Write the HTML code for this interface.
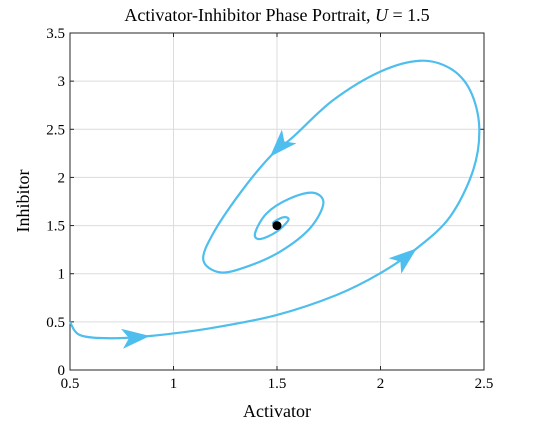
<!DOCTYPE html>
<html><head><meta charset="utf-8"><style>
body{margin:0;background:#fff}
svg{display:block;font-family:"Liberation Serif",serif}
</style></head><body>
<svg id="c" width="536" height="424" viewBox="0 0 536 424" xmlns="http://www.w3.org/2000/svg">
<rect width="536" height="424" fill="#fff"/>
<g id="grid"></g>
<g id="axes"></g>
<path id="traj" fill="none" stroke="#4DBEEE" stroke-width="2.2" stroke-linejoin="round"/>
<g id="arrows"></g>
<circle id="eq" r="4.5" fill="#000"/>
<text x="277" y="21" font-size="18" text-anchor="middle">Activator-Inhibitor Phase Portrait, <tspan font-style="italic">U</tspan> = 1.5</text>
<text x="277" y="417" font-size="18" text-anchor="middle">Activator</text>
<text x="0" y="0" font-size="18" text-anchor="middle" transform="translate(29,201) rotate(-90)">Inhibitor</text>
</svg>
<script>
const xTicks=[0.5,1,1.5,2,2.5];
const yTicks=[0,0.5,1,1.5,2,2.5,3,3.5];
const xTickLabels=["0.5","1","1.5","2","2.5"];
const yTickLabels=["0","0.5","1","1.5","2","2.5","3","3.5"];
const activator=[0.5,0.548,0.693,0.886,1.176,1.498,1.788,1.998,2.175,2.336,2.448,2.477,2.432,2.336,2.191,1.998,1.772,1.579,1.466,1.321,1.192,1.144,1.225,1.354,1.514,1.659,1.724,1.675,1.563,1.450,1.394,1.418,1.498,1.555,1.530,1.482,1.5];
const inhibitor=[0.50,0.363,0.33,0.353,0.433,0.571,0.779,1.004,1.263,1.592,2.077,2.527,2.908,3.133,3.212,3.098,2.804,2.423,2.215,1.835,1.420,1.142,1.014,1.073,1.228,1.471,1.731,1.841,1.782,1.627,1.420,1.36,1.436,1.558,1.586,1.530,1.5];
const arrowAt=[3,8,18];
const eqX=[1.5],eqY=[1.5];
const X0=70,X1=484,Y0=370,Y1=33;
const sx=v=>X0+(v-0.5)/2*(X1-X0);
const sy=v=>Y0-v/3.5*(Y0-Y1);
const NS="http://www.w3.org/2000/svg";
const g=document.getElementById('grid'),ax=document.getElementById('axes');
function mk(p,t,a){const e=document.createElementNS(NS,t);for(const k in a)e.setAttribute(k,a[k]);p.appendChild(e);return e;}
xTicks.forEach((v,i)=>{const x=sx(v);
 const l=mk(g,'line',{x1:x,x2:x,y1:Y1,y2:Y0,stroke:'#dcdcdc','stroke-width':1});
 
 
 const t=mk(ax,'text',{x:x,y:Y0+18,'font-size':15,'text-anchor':'middle'});t.textContent=xTickLabels[i];
 
 
 mk(ax,'line',{x1:x,x2:x,y1:Y0,y2:Y0-4,stroke:'#262626'});mk(ax,'line',{x1:x,x2:x,y1:Y1,y2:Y1+4,stroke:'#262626'});
});
yTicks.forEach((v,i)=>{const y=sy(v);
 const l=mk(g,'line',{x1:X0,x2:X1,y1:y,y2:y,stroke:'#dcdcdc','stroke-width':1});
 
 
 const t=mk(ax,'text',{x:X0-5,y:y+5,'font-size':15,'text-anchor':'end'});t.textContent=yTickLabels[i];
 
 
 mk(ax,'line',{x1:X0,x2:X0+4,y1:y,y2:y,stroke:'#262626'});mk(ax,'line',{x1:X1,x2:X1-4,y1:y,y2:y,stroke:'#262626'});
});
const box=mk(ax,'rect',{x:X0,y:Y1,width:X1-X0,height:Y0-Y1,fill:'none',stroke:'#262626','stroke-width':1});


const P=activator.map((v,i)=>[sx(v),sy(inhibitor[i])]);
let d='M'+P[0][0]+','+P[0][1];
for(let i=0;i<P.length-1;i++){const p0=P[Math.max(i-1,0)],p1=P[i],p2=P[i+1],p3=P[Math.min(i+2,P.length-1)];
 d+=' C'+(p1[0]+(p2[0]-p0[0])/6)+','+(p1[1]+(p2[1]-p0[1])/6)+' '+(p2[0]-(p3[0]-p1[0])/6)+','+(p2[1]-(p3[1]-p1[1])/6)+' '+p2[0]+','+p2[1];}
document.getElementById('traj').setAttribute('d',d);
const ag=document.getElementById('arrows');
arrowAt.forEach(i=>{const a=P[i],b=P[i+1],pr=P[i-1];
 const ang=Math.atan2(b[1]-pr[1],b[0]-pr[0])*180/Math.PI;
 const e=mk(ag,'polygon',{points:'0,0 -28,-10 -21,0 -28,10',fill:'#4DBEEE',transform:'translate('+a[0]+','+a[1]+') rotate('+ang+')'});
 
 
});
const eq=document.getElementById('eq');eq.setAttribute('cx',sx(eqX[0]));eq.setAttribute('cy',sy(eqY[0]));
</script>
</body></html>
